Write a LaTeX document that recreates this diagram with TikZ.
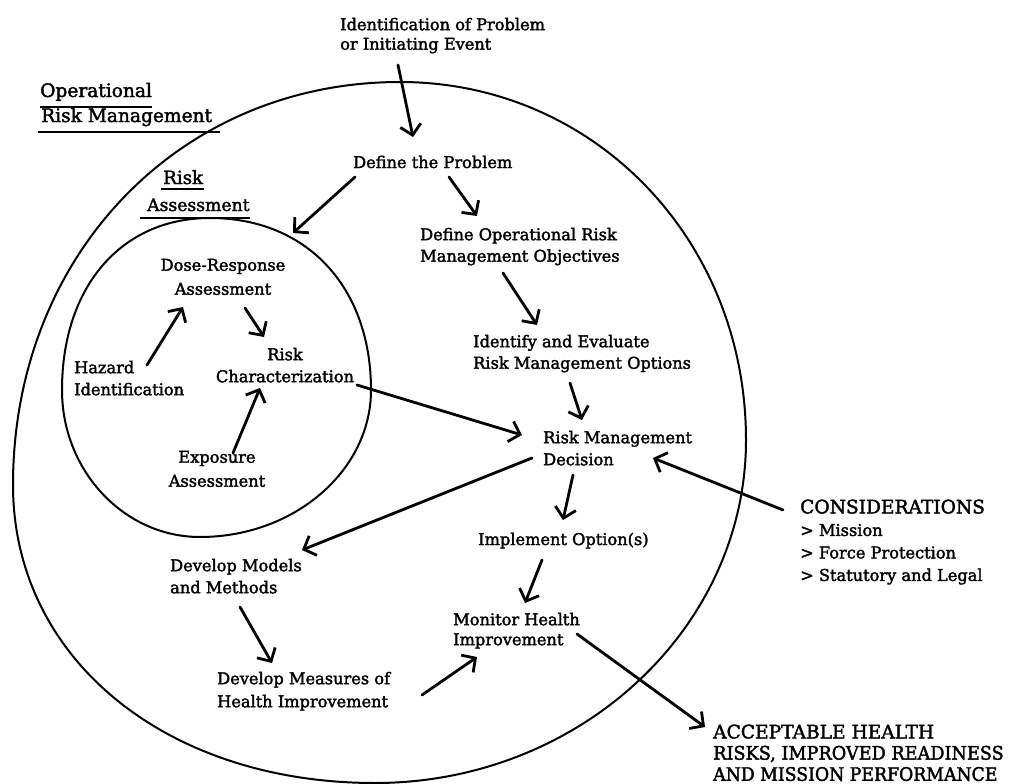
\documentclass[tikz,border=0pt]{standalone}
\usepackage{fontspec}
\setmainfont{DejaVu Serif}[FakeBold=2]
\usetikzlibrary{arrows.meta}
\begin{document}
\begin{tikzpicture}[x=1pt,y=-1pt,
  body/.style={inner sep=0pt, font=\fontsize{16.2}{21.5}\selectfont},
  blockl/.style={body, align=left, anchor=north west},
  blockc/.style={body, align=center, anchor=north},
  single/.style={body, anchor=base west},
  capsblock/.style={inner sep=0pt, font=\fontsize{18.6}{21.2}\selectfont, align=left, anchor=north west},
  heading/.style={inner sep=0pt, anchor=base west, font=\fontsize{18.6}{22}\selectfont},
  ring/.style={line width=2pt, line join=round},
  uline/.style={line width=2.4pt},
  arr/.style={line width=2.8pt, line cap=round, -{Straight Barb[length=10pt,width=21pt]}},
]
\useasboundingbox (0,0) rectangle (1010,784);
\fill[white] (0,0) rectangle (1010,784);

% outer boundary: operational risk management
\draw[ring] (400,82) .. controls (593.8,82) and (746,239.5) .. (746,440)
  .. controls (746,628.7) and (579,783) .. (375,783)
  .. controls (165,783) and (13,657.8) .. (13,485)
  .. controls (13,255.3) and (179.4,82) .. (400,82) -- cycle;

% inner boundary: risk assessment
\draw[ring] (210,218) .. controls (306.6,218) and (371,286.8) .. (371,390)
  .. controls (371,470.9) and (294,537) .. (200,537)
  .. controls (124.1,537) and (62,470.9) .. (62,390)
  .. controls (62,286.8) and (121.2,218) .. (210,218) -- cycle;
\coordinate (raEntry) at (293,233);

% headings
\node[heading] (orm1) at (40,97) {Operational};
\node[heading] (orm2) at (41,122) {Risk Management};
\node[heading, font=\fontsize{18.2}{22}\selectfont] (ra1) at (163,184) {Risk};
\node[heading, font=\fontsize{17.2}{22}\selectfont] (ra2) at (147,211) {Assessment};
\draw[uline] ([yshift=-10pt]orm1.base west) -- ([yshift=-10pt]orm1.base east);
\draw[uline] ([shift={(-3,10)}]orm2.base west) -- ([shift={(8,10)}]orm2.base east);
\draw[uline] ([shift={(-2,5)}]ra1.base west) -- ([shift={(1,5)}]ra1.base east);
\draw[uline] ([shift={(-7,7)}]ra2.base west) -- ([shift={(0,7)}]ra2.base east);

% process steps
\node[blockl, font=\fontsize{16.2}{19.5}\selectfont] (idp) at (340,17.7) {Identification of Problem\\or Initiating Event};
\node[single] (dp) at (353,168) {Define the Problem};
\node[blockl] (dor) at (420,227.7) {Define Operational Risk\\Management Objectives};
\node[blockl] (ie) at (473,334.7) {Identify and Evaluate\\Risk Management Options};
\node[blockl, font=\fontsize{16.2}{22}\selectfont] (rmd) at (543,430.7) {Risk Management\\Decision};
\node[single] (imp) at (478,545) {Implement Option(s)};
\node[blockl, font=\fontsize{16.2}{20}\selectfont] (mon) at (453,612.7) {Monitor Health\\Improvement};
\node[blockl, font=\fontsize{16.2}{22}\selectfont] (dmm) at (170,558.7) {Develop Models\\and Methods};
\node[blockl, font=\fontsize{16.2}{23}\selectfont] (dmh) at (217,671.7) {Develop Measures of\\Health Improvement};

% risk assessment steps
\node[blockc, font=\fontsize{16.2}{24}\selectfont] (dra) at (223,258.7) {Dose-Response\\Assessment};
\node[blockc, font=\fontsize{16.2}{22}\selectfont] (rc) at (285,347.7) {Risk\\Characterization};
\node[blockl, font=\fontsize{16.2}{22}\selectfont] (hz) at (74,360.7) {Hazard\\Identification};
\node[blockc, font=\fontsize{16.2}{24}\selectfont] (ea) at (217,450.7) {Exposure\\Assessment};

% outside inputs and outcome
\node[blockl, font=\fontsize{16.2}{22.5}\selectfont] (cons) at (800,499.4)
  {{\fontsize{18.6}{22.5}\selectfont CONSIDERATIONS}\\> Mission\\> Force Protection\\> Statutory and Legal};
\node[capsblock] (acc) at (713,724.4) {ACCEPTABLE HEALTH\\
  {\addfontfeatures{FakeStretch=0.95}RISKS, IMPROVED READINESS}\\
  {\addfontfeatures{FakeStretch=0.93}AND MISSION PERFORMANCE}};

% connectors
\draw[arr] ([shift={(58,47.3)}]idp.north west) -- ([shift={(60,-31)}]dp.base west);
\draw[arr] ([shift={(2,9)}]dp.base west) -- (raEntry);
\draw[arr] ([shift={(96,9)}]dp.base west) -- ([shift={(57,-11.7)}]dor.north west);
\draw[arr] ([shift={(83,45.3)}]dor.north west) -- ([shift={(64,-9.7)}]ie.north west);
\draw[arr] ([shift={(97,48.3)}]ie.north west) -- ([shift={(39,-10.7)}]rmd.north west);
\draw[arr] ([shift={(72,37.3)}]rc.north) -- ([shift={(-21,4.3)}]rmd.north west);
\draw[arr] ([shift={(-17,10.6)}]cons.north west) -- ([shift={(110,27.3)}]rmd.north west);
\draw[arr] ([shift={(30,44.3)}]rmd.north west) -- ([shift={(85,-25)}]imp.base west);
\draw[arr] ([shift={(-11,27.3)}]rmd.north west) -- ([shift={(132,-8.7)}]dmm.north west);
\draw[arr] ([shift={(64,15)}]imp.base west) -- ([shift={(72,-9.7)}]mon.north west);
\draw[arr] ([shift={(70,48.3)}]dmm.north west) -- ([shift={(55,-8.7)}]dmh.north west);
\draw[arr] ([shift={(205,23.3)}]dmh.north west) -- ([shift={(24,44.3)}]mon.north west);
\draw[arr] ([shift={(124,21.3)}]mon.north west) -- ([shift={(-8,2.6)}]acc.north west);
\draw[arr] ([shift={(73,4.3)}]hz.north west) -- ([shift={(-40,48.3)}]dra.north);
\draw[arr] ([shift={(22,49.3)}]dra.north) -- ([shift={(-21,-10.7)}]rc.north);
\draw[arr] ([shift={(16,2.3)}]ea.north) -- ([shift={(-25,40.3)}]rc.north);
\end{tikzpicture}
\end{document}
